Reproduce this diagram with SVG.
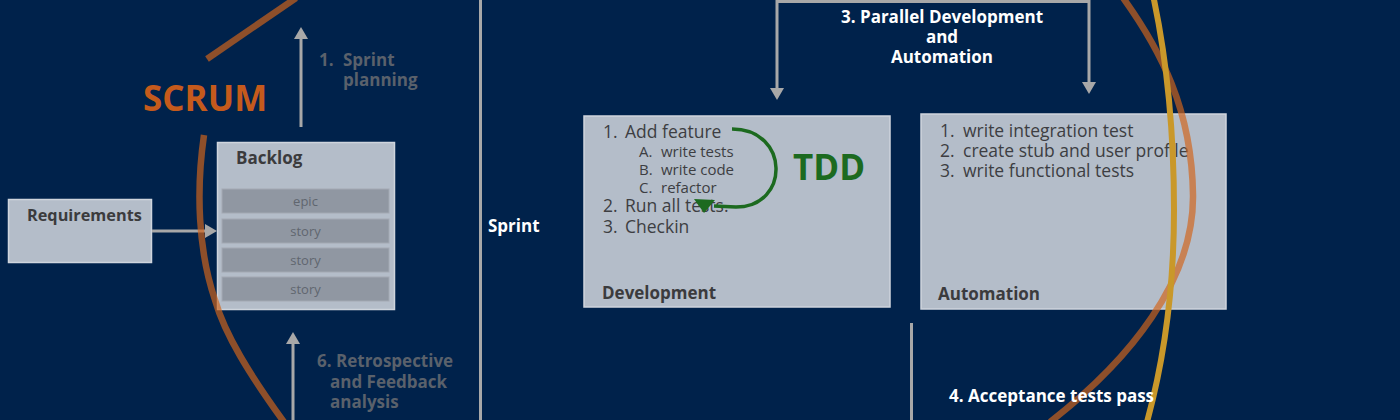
<svg xmlns="http://www.w3.org/2000/svg" width="1400" height="420" viewBox="0 0 1400 420">
<style>
text{font-family:"Open Sans","Noto Sans","DejaVu Sans",sans-serif}
.box{fill:#b4bdc9;stroke:#cfd5dd;stroke-width:1.5}
.row{fill:#9097a2;stroke:#a3a9b3;stroke-width:1}
.rowt{font-size:13px;fill:#60666f;text-anchor:middle}
.ttl{font-size:17px;font-weight:700;fill:#3b3b3d}
.li{font-size:17.5px;fill:#3d3e42}
.sub{font-size:15px;fill:#3d3e42}
.wl{font-size:17px;font-weight:700;fill:#ffffff}
.gl{font-size:17px;font-weight:700;fill:#5a616b}
.conn{fill:none;stroke:#a8a8a8;stroke-width:3}
</style>
<defs>
<marker id="ah" viewBox="0 0 12 14" refX="0" refY="7" markerWidth="12" markerHeight="14" markerUnits="userSpaceOnUse" orient="auto-start-reverse">
<path d="M0,0 L12,7 L0,14 z" fill="#a8a8a8"/>
</marker>
</defs>
<rect x="0" y="0" width="1400" height="420" fill="#00224b"/>

<g id="separator">
<line x1="480.5" y1="0" x2="480.5" y2="420" stroke="#a8a8a8" stroke-width="3"/>
</g>

<g id="requirements">
<rect class="box" x="8.5" y="199.5" width="143" height="63"/>
<text class="ttl" x="27" y="221" style="font-size:16.3px">Requirements</text>
</g>

<g id="backlog">
<rect class="box" x="217.5" y="142.5" width="177" height="167"/>
<text class="ttl" x="236" y="164">Backlog</text>
<rect class="row" x="222" y="189" width="167" height="24"/>
<text class="rowt" x="305.5" y="206">epic</text>
<rect class="row" x="222" y="219" width="167" height="24"/>
<text class="rowt" x="305.5" y="236">story</text>
<rect class="row" x="222" y="248" width="167" height="24"/>
<text class="rowt" x="305.5" y="265">story</text>
<rect class="row" x="222" y="277" width="167" height="24"/>
<text class="rowt" x="305.5" y="294">story</text>
</g>

<g id="development">
<rect class="box" x="584" y="116" width="306" height="191"/>
<text class="li" x="603" y="138">1.</text><text class="li" x="625" y="138">Add feature</text>
<text class="sub" x="639" y="157">A.</text><text class="sub" x="661" y="157">write tests</text>
<text class="sub" x="639" y="175">B.</text><text class="sub" x="661" y="175">write code</text>
<text class="sub" x="639" y="193">C.</text><text class="sub" x="661" y="193">refactor</text>
<text class="li" x="603" y="212">2.</text><text class="li" x="625" y="212">Run all tests.</text>
<text class="li" x="603" y="233">3.</text><text class="li" x="625" y="233">Checkin</text>
<text class="ttl" x="602" y="299">Development</text>
</g>

<g id="tdd">
<path d="M732,129 C790,129 790,207 736,207 L714,206" fill="none" stroke="#1c6a1f" stroke-width="3.5"/>
<polygon points="694,199 715,200 704,213" fill="#1c6a1f"/>
<text x="793" y="180" font-size="35" font-weight="700" fill="#1c6a1f">TDD</text>
</g>

<g id="automation">
<rect class="box" x="921" y="114" width="305" height="195"/>
<text class="li" x="940" y="137">1.</text><text class="li" x="963" y="137">write integration test</text>
<text class="li" x="940" y="157">2.</text><text class="li" x="963" y="157">create stub and user profile</text>
<text class="li" x="940" y="177">3.</text><text class="li" x="963" y="177">write functional tests</text>
<text class="ttl" x="938" y="300">Automation</text>
</g>

<g id="connectors">
<path class="conn" d="M301,127 L301,39" marker-end="url(#ah)"/>
<path class="conn" d="M293,420 L293,344" marker-end="url(#ah)"/>
<path class="conn" d="M152,231 L205,231" marker-end="url(#ah)"/>
<path class="conn" d="M777,88 L777,1.5 L1089,1.5 L1089,82" marker-start="url(#ah)" marker-end="url(#ah)"/>
<path class="conn" d="M911.5,323 L911.5,420"/>
</g>

<g id="labels">
<text class="gl" x="319" y="66">1.</text><text class="gl" x="343" y="66">Sprint</text>
<text class="gl" x="343" y="86">planning</text>
<text class="gl" x="317" y="367">6. Retrospective</text>
<text class="gl" x="330" y="388">and Feedback</text>
<text class="gl" x="330" y="408">analysis</text>
<text class="wl" x="488" y="232">Sprint</text>
<text class="wl" x="942" y="23" text-anchor="middle">3. Parallel Development</text>
<text class="wl" x="942" y="43" text-anchor="middle">and</text>
<text class="wl" x="942" y="63" text-anchor="middle">Automation</text>
<text x="143" y="111" font-size="35" font-weight="700" fill="#c55a1c">SCRUM</text>
</g>

<g id="scrum-cycle" fill="none" stroke-width="6.5">
<path d="M296,-2 L207,59" stroke="#d1641b" stroke-opacity="0.68"/>
<path d="M204,135 C196,190 198,250 215,300 C225,335 250,375 284,422" stroke="#d1641b" stroke-opacity="0.68"/>
<path d="M1121,-5 C1161,50 1192,110 1193,195 C1194,280 1130,360 1050,422" stroke="#d1641b" stroke-opacity="0.68"/>
<path d="M1153,-5 C1167,60 1174,130 1174,210 C1174,290 1164,360 1147,422" stroke="#c9982a" stroke-width="6"/>
</g>

<g id="acceptance">
<text class="wl" x="949" y="402">4. Acceptance tests pass</text>
</g>
</svg>
